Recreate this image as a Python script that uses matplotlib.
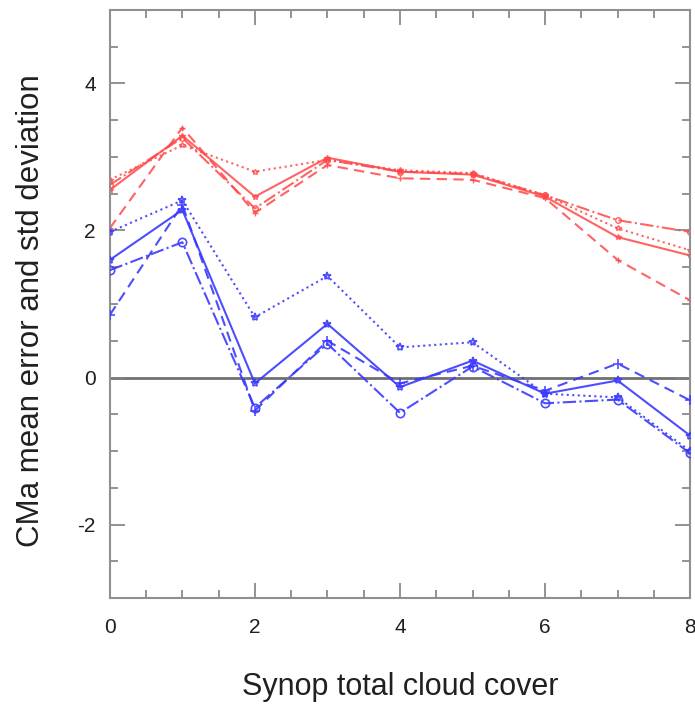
import matplotlib
matplotlib.use("Agg")
import matplotlib.pyplot as plt
from matplotlib.ticker import MultipleLocator

plt.rcParams['font.family'] = ['Liberation Sans', 'DejaVu Sans']
plt.rcParams['axes.unicode_minus'] = False

cloud_cover = [0, 1, 2, 3, 4, 5, 6, 7, 8]

# standard deviations (red)
std_solid   = [2.55, 3.29, 2.46, 2.99, 2.80, 2.76, 2.46, 1.91, 1.66]
std_dashed  = [2.03, 3.40, 2.24, 2.89, 2.71, 2.69, 2.44, 1.60, 1.05]
std_dotted  = [2.69, 3.16, 2.80, 2.96, 2.82, 2.78, 2.48, 2.03, 1.73]
std_dashdot = [2.62, 3.26, 2.30, 2.96, 2.80, 2.77, 2.48, 2.14, 1.98]

# mean errors (blue)
me_solid   = [1.60, 2.28, -0.08, 0.73, -0.13, 0.23, -0.22, -0.04, -0.79]
me_dashed  = [0.85, 2.35, -0.45, 0.50, -0.08, 0.16, -0.18, 0.19, -0.31]
me_dotted  = [1.98, 2.41, 0.82, 1.38, 0.41, 0.48, -0.22, -0.27, -1.00]
me_dashdot = [1.46, 1.84, -0.41, 0.46, -0.48, 0.15, -0.35, -0.30, -1.03]

x_ticks = [0, 2, 4, 6, 8]
y_ticks = [-2, 0, 2, 4]

red = '#ff4848'
blue = '#3a3aff'

fig = plt.figure(figsize=(6.95, 7.07), dpi=100)
ax = fig.add_axes([0.158, 0.154, 0.835, 0.832])

ax.axhline(0, color='#707070', lw=2.0, zorder=1)

styles = [('-', '*', 6), ((0, (5, 3)), '+', 7), (':', '*', 6), ('-.', 'o', 6)]

for data, (ls, mk, ms) in zip([std_solid, std_dashed, std_dotted, std_dashdot], styles):
    ax.plot(cloud_cover, data, color=red, ls=ls, lw=1.5, marker=mk, ms=ms - 2,
            mfc='none', mec=red, mew=1.0, alpha=0.85, zorder=2)

for data, (ls, mk, ms) in zip([me_solid, me_dashed, me_dotted, me_dashdot], styles):
    ax.plot(cloud_cover, data, color=blue, ls=ls, lw=1.5, marker=mk, ms=ms,
            mfc='none', mec=blue, mew=1.2, alpha=0.9, zorder=3)

ax.set_xlim(0, 8)
ax.set_ylim(-3, 5)
ax.set_xticks(x_ticks)
ax.set_yticks(y_ticks)
ax.xaxis.set_minor_locator(MultipleLocator(0.5))
ax.yaxis.set_minor_locator(MultipleLocator(0.5))
ax.tick_params(which='both', direction='in', top=True, right=True, color='#808080', width=1.2)
ax.tick_params(which='major', length=11, labelsize=15, pad=10)
ax.tick_params(axis='x', which='major', pad=14)
ax.tick_params(which='minor', length=6)
for t in ax.get_xticklabels() + ax.get_yticklabels():
    t.set_color('#202020')
for s in ax.spines.values():
    s.set_color('#909090')
    s.set_linewidth(1.5)

fig.text(0.576, 0.028, 'Synop total cloud cover', fontsize=22, ha='center', va='center', color='#202020')
fig.text(0.045, 0.561, 'CMa mean error and std deviation', fontsize=22.5, ha='center', va='center',
         rotation=90, color='#202020')

fig.savefig('out.png', dpi=100)
